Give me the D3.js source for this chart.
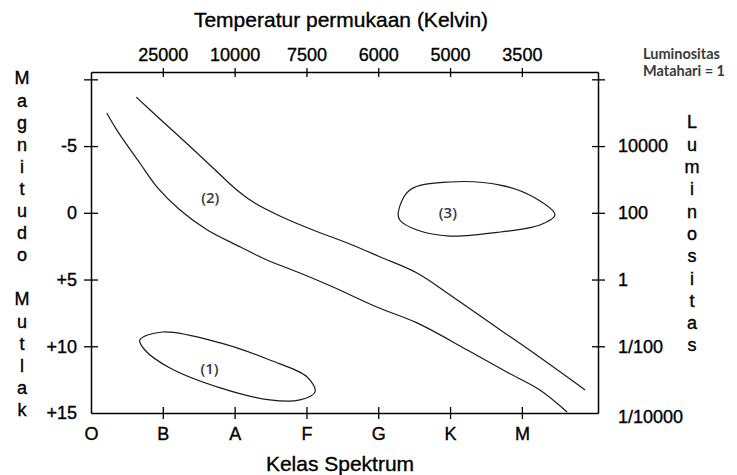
<!DOCTYPE html>
<html>
<head>
<meta charset="utf-8">
<script src="https://cdn.jsdelivr.net/npm/d3@7"></script>
<style>
  body { margin: 0; background: #fff; }
  svg { display: block; }
</style>
</head>
<body>
<div id="hr"></div>
<script>
// spectral classes on the bottom, temperatures on top (same positions)
var classes = ["O", "B", "A", "F", "G", "K", "M"];
var tempLabels = ["25000", "10000", "7500", "6000", "5000", "3500"];
var magTicks = [-10, -5, 0, 5, 10, 15];
var magLabels = ["", "-5", "0", "+5", "+10", "+15"];
var lumTicks = [1e6, 1e4, 1e2, 1, 1e-2, 1e-4];
var lumLabels = ["", "10000", "100", "1", "1/100", "1/10000"];

// curves: [spectral class position, absolute magnitude]
var upperLine = [[0.63, -8.67], [0.96, -7.03], [1.38, -4.97], [1.70, -3.36], [2.03, -1.71],
  [2.28, -0.73], [2.63, 0.24], [3.09, 1.29], [3.57, 2.26], [4.03, 3.31], [4.54, 4.51],
  [5.04, 6.31], [5.70, 8.78], [6.16, 10.49], [6.88, 13.27]];
var lowerLine = [[0.22, -7.48], [0.36, -6.20], [0.68, -3.73], [0.92, -1.93], [1.24, -0.21],
  [1.62, 1.29], [2.08, 2.56], [2.45, 3.54], [2.91, 4.51], [3.37, 5.56], [3.98, 7.06],
  [4.54, 8.25], [5.24, 10.28], [5.79, 11.93], [6.25, 13.27], [6.63, 14.92]];
var giants = [[4.28, -0.06], [4.44, -1.71], [5.00, -2.31], [5.70, -2.08], [6.16, -1.18],
  [6.46, 0.16], [6.25, 0.91], [5.70, 1.44], [5.00, 1.74], [4.54, 1.29], [4.30, 0.54]];
var dwarfs = [[0.68, 9.53], [1.00, 8.93], [1.80, 9.75], [2.49, 11.03], [3.01, 12.30],
  [3.12, 13.42], [2.91, 14.02], [2.49, 14.02], [1.80, 13.12], [1.10, 11.63], [0.75, 10.28]];
var regionLabels = [["(1)", 1.65, 11.65], ["(2)", 1.66, -1.1], ["(3)", 4.97, 0.02]];

var svgWidth = 737;
var svgHeight = 475;
var margin = { top: 72, right: 139, bottom: 62, left: 91 };
var width = svgWidth - margin.left - margin.right;
var height = svgHeight - margin.top - margin.bottom;
var font = "'Liberation Sans', Arial, sans-serif";
var font2 = "'Open Sans', 'Noto Sans', sans-serif";

var svg = d3.select("#hr")
  .append("svg")
  .attr("width", svgWidth)
  .attr("height", svgHeight);

var chartGroup = svg.append("g")
  .attr("transform", `translate(${margin.left}, ${margin.top})`);

var xScale = d3.scaleLinear().domain([0, 7.06]).range([0, width]);
var yScale = d3.scaleLinear().domain([-10.55, 15]).range([0, height]);
var lumScale = d3.scaleLog()
  .domain([Math.pow(10, 2 + 0.4 * 10.55), Math.pow(10, 2 - 0.4 * 15)])
  .range([0, height]);

// the scanned original has slightly heavy lettering
function heavy(sel) {
  sel.attr("fill", "#000").attr("stroke", "#000").attr("stroke-width", 0.35);
}

function styleAxis(g) {
  g.attr("font-size", 18).attr("font-family", font);
  g.select(".domain").attr("stroke", "#000").attr("stroke-width", 1.5);
  g.selectAll(".tick line").attr("stroke", "#000").attr("stroke-width", 1.3);
  g.selectAll(".tick text").call(heavy);
}

// bottom
var bottomAxis = chartGroup.append("g")
  .attr("transform", `translate(0, ${height})`)
  .call(d3.axisBottom(xScale).tickValues(d3.range(classes.length))
    .tickFormat((d, i) => classes[i]).tickSizeOuter(0));
styleAxis(bottomAxis);
bottomAxis.selectAll(".tick line").attr("y1", -6).attr("y2", 6)
  .attr("display", d => d === 0 ? "none" : null);
bottomAxis.selectAll(".tick text").attr("y", 14);

// top
var topAxis = chartGroup.append("g")
  .call(d3.axisTop(xScale).tickValues(d3.range(1, 7))
    .tickFormat((d, i) => tempLabels[i]).tickSizeOuter(0));
styleAxis(topAxis);
topAxis.selectAll(".tick line").attr("y1", 5).attr("y2", -4);
topAxis.selectAll(".tick text").attr("y", -11);

// left
var leftAxis = chartGroup.append("g")
  .call(d3.axisLeft(yScale).tickValues(magTicks)
    .tickFormat((d, i) => magLabels[i]).tickSizeOuter(0));
styleAxis(leftAxis);
leftAxis.selectAll(".tick line").attr("x1", 7).attr("x2", -7)
  .attr("display", d => d === 15 ? "none" : null);
leftAxis.selectAll(".tick text").attr("x", -14);

// right
var rightAxis = chartGroup.append("g")
  .attr("transform", `translate(${width}, 0)`)
  .call(d3.axisRight(lumScale).tickValues(lumTicks)
    .tickFormat((d, i) => lumLabels[i]).tickSizeOuter(0));
styleAxis(rightAxis);
rightAxis.selectAll(".tick line").attr("x1", -6).attr("x2", 7)
  .attr("display", d => d < 1e-3 ? "none" : null);
rightAxis.selectAll(".tick text").attr("x", 20)
  .attr("dy", d => d < 1e-3 ? "0.55em" : "0.32em");

// curves
var openCurve = d3.line()
  .x(d => xScale(d[0]))
  .y(d => yScale(d[1]))
  .curve(d3.curveCatmullRom);
var closedCurve = d3.line()
  .x(d => xScale(d[0]))
  .y(d => yScale(d[1]))
  .curve(d3.curveCatmullRomClosed);

[upperLine, lowerLine].forEach(function (pts) {
  chartGroup.append("path").attr("d", openCurve(pts))
    .attr("fill", "none").attr("stroke", "#1a1a1a").attr("stroke-width", 1.2);
});
[giants, dwarfs].forEach(function (pts) {
  chartGroup.append("path").attr("d", closedCurve(pts))
    .attr("fill", "none").attr("stroke", "#1a1a1a").attr("stroke-width", 1.2);
});

chartGroup.selectAll(".region")
  .data(regionLabels)
  .enter()
  .append("text")
  .attr("x", d => xScale(d[1]))
  .attr("y", d => yScale(d[2]))
  .attr("dy", "0.35em")
  .attr("text-anchor", "middle")
  .attr("font-family", font2)
  .attr("font-weight", 600)
  .attr("font-size", 15)
  .attr("fill", "#3a3a3a")
  .text(d => d[0]);

// titles
svg.append("text")
  .attr("x", 341).attr("y", 27)
  .attr("text-anchor", "middle")
  .attr("font-family", font).attr("font-size", 21)
  .call(heavy)
  .text("Temperatur permukaan (Kelvin)");

svg.append("text")
  .attr("x", 340).attr("y", 471)
  .attr("text-anchor", "middle")
  .attr("font-family", font).attr("font-size", 21)
  .call(heavy)
  .text("Kelas Spektrum");

var sunNote = svg.append("text")
  .attr("font-family", "Lato, 'Open Sans', sans-serif").attr("font-weight", 700)
  .attr("font-size", 14.5)
  .attr("fill", "#3a3a3a");
sunNote.append("tspan").attr("x", 643).attr("y", 59).text("Luminositas");
sunNote.append("tspan").attr("x", 643).attr("y", 76).text("Matahari = 1");

// stacked vertical labels
var leftTitle = "Magnitudo Mutlak".split("");
svg.selectAll(".ltitle")
  .data(leftTitle)
  .enter()
  .append("text")
  .attr("x", 22)
  .attr("y", (d, i) => 78 + i * 22.1)
  .attr("dy", "0.36em")
  .attr("text-anchor", "middle")
  .attr("font-family", font).attr("font-size", 18)
  .call(heavy)
  .text(d => d);

var rightTitle = "Luminositas".split("");
svg.selectAll(".rtitle")
  .data(rightTitle)
  .enter()
  .append("text")
  .attr("x", 692)
  .attr("y", (d, i) => 122 + i * 22.3)
  .attr("dy", "0.36em")
  .attr("text-anchor", "middle")
  .attr("font-family", font).attr("font-size", 18)
  .call(heavy)
  .text(d => d);
</script>
</body>
</html>
